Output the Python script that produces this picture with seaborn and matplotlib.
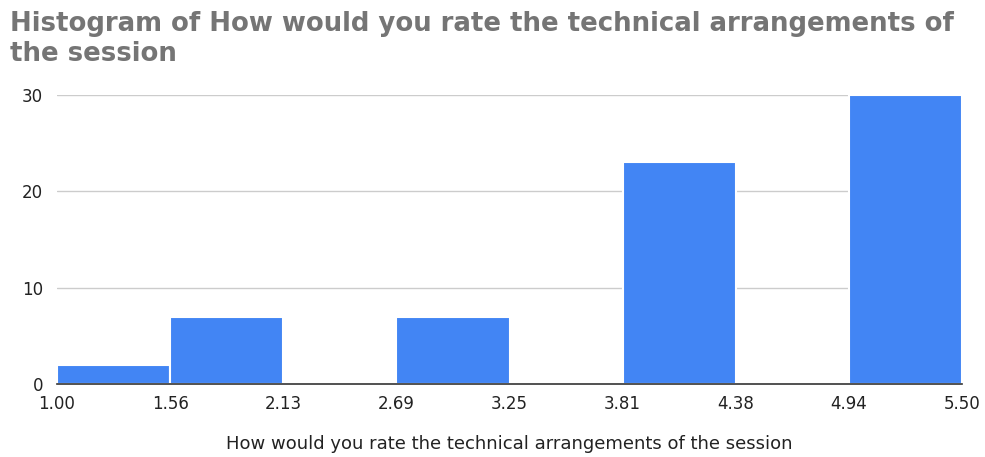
import numpy as np
import seaborn as sns
import matplotlib.pyplot as plt

# Histogram counts per bin
bin_edges = [1.00, 1.5625, 2.125, 2.6875, 3.25, 3.8125, 4.375, 4.9375, 5.50]
bin_counts = [2, 7, 0, 7, 0, 23, 0, 30]
tick_labels = ["1.00", "1.56", "2.13", "2.69", "3.25", "3.81", "4.38", "4.94", "5.50"]

title = "Histogram of How would you rate the technical arrangements of\nthe session"
xlabel = "How would you rate the technical arrangements of the session"

sns.set_style("white")
plt.rcParams['font.family'] = ['DejaVu Sans']

centers = [(a + b) / 2 for a, b in zip(bin_edges[:-1], bin_edges[1:])]

fig = plt.figure(figsize=(9.85, 4.57), dpi=100)
ax = fig.add_axes([57 / 985, 1 - 384 / 457, 905 / 985, 289 / 457])

sns.histplot(x=centers, weights=bin_counts, bins=bin_edges, ax=ax,
             color="#4285F4", alpha=1, edgecolor="white", linewidth=1.5)

ax.set_xlim(1.0, 5.5)
ax.set_ylim(0, 30)
ax.set_xticks(bin_edges)
ax.set_xticklabels(tick_labels, fontsize=12, color="#222222")
ax.set_yticks([0, 10, 20, 30])
ax.set_yticklabels(["0", "10", "20", "30"], fontsize=12, color="#222222")
ax.tick_params(axis='x', length=0, pad=8)
ax.tick_params(axis='y', length=0, pad=10)
ax.grid(axis='y', color="#cccccc", linewidth=1)
ax.set_axisbelow(True)
for s in ["top", "right", "left"]:
    ax.spines[s].set_visible(False)
ax.spines["bottom"].set_color("#333333")
ax.spines["bottom"].set_linewidth(1.2)
ax.spines["bottom"].set_zorder(5)

ax.set_ylabel("")
ax.set_xlabel(xlabel, fontsize=13, color="#222222", labelpad=16)

fig.text(10 / 985, 1 - 11 / 457, title, fontsize=18.7, color="#757575",
         ha="left", va="top", fontweight="bold", linespacing=1.18)

fig.savefig("out.png", dpi=100)
